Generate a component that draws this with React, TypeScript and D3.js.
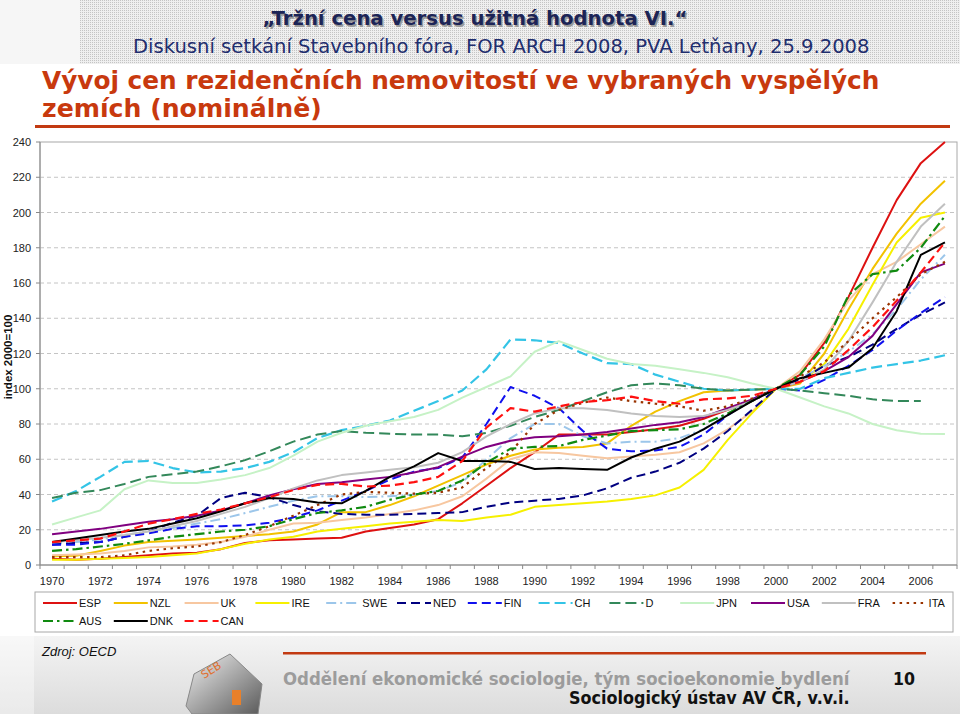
import React, { useLayoutEffect, useRef, useState } from 'react';
import * as d3 from 'd3';

const YEARS = [1970,1971,1972,1973,1974,1975,1976,1977,1978,1979,1980,1981,1982,1983,1984,1985,1986,1987,1988,1989,1990,1991,1992,1993,1994,1995,1996,1997,1998,1999,2000,2001,2002,2003,2004,2005,2006,2007];
const X_TICK_LABELS = ['1970','1972','1974','1976','1978','1980','1982','1984','1986','1988','1990','1992','1994','1996','1998','2000','2002','2004','2006'];
const Y_TICKS = [0,20,40,60,80,100,120,140,160,180,200,220,240];

const ESP = [3.5,3,3.5,4.5,5.5,6.5,7,9,12.5,14, 14.5,15,15.5,19,21,23,26,35,45,55, 64,74,74,74,75.5,77,79,83,88,93, 100,108,126,152,180,207,228,240];
const NZL = [5,5.3,8,11,13,13.8,14.5,15.5,16.5,17.5, 19,23,30,30,34,39,45,51,57,62, 65.5,66.5,67,69,79,87,93,98,99,99.5, 100,103,120,145,168,188,205,218];
const UK = [5.5,6,6.5,8,10,10.5,11.5,13,16,20, 23.5,24,25.5,27,29,31,34,39,49,60, 64,63.5,62,60.5,61.5,62.5,64,69,77,87, 100,110,128,150,165,172,182,192];
const IRE = [3,3,3.5,4,4.5,5.5,6.5,9,12,14.5, 16,19,20.5,22,23.5,24.5,25.5,25,27,28.5, 33,34,35,36,37.5,39.5,44,54,71,86, 100,104,114,134,159,183,197,200];
const SWE = [12,13,14.5,17,19,21,23.5,26,29.5,33, 36.5,39,39,38.5,39,40,42,47,60,72, 80,80,73,69,70,70,72,77,86,93, 100,106,113,121,131,145,162,176];
const NED = [11.5,12.5,13,16,19,24,28,38,41,38.5, 34,30.5,29,28.5,28.5,29,29.5,30,33,35.5, 36.5,37.5,39.5,43.5,49.5,53,58,66,76,88, 100,105,113,118,125,134,142,149];
const FIN = [11.5,11.5,13,16,18,20.5,22,22,22.5,24, 27,31,36.5,42,48.5,53,55,61,80,101, 96,89,76,66,64.5,65,67,74,85,94, 100,99,105,113,122,133,143,152];
const CH = [36,42,50,58.5,59,55,52.5,53,55,58.5, 64,72,76.5,79,82,87.5,93,99,111,128, 127.5,126,120,114.5,114,108,104,100,99,99.5, 100,100,106,109,112,114,116,119];
const D = [38,41,42.5,46,50,51.5,53,56,59.5,64.5, 70,74,76,75,74.5,74,74,73,75,79, 84,88,93,98,102,103,102,100,99,99.5, 100,99,97.5,96,94,93,93,null];
const JPN = [23,27,31,43,48,46.5,46.5,48.5,51,55, 62,70,75,79,81.5,84,88,95,101,107, 121,127,122,117,114,113,111,109,106.5,103, 100,95,90,86,80,76.5,74.5,74.3];
const USA = [17.5,19,20.5,22.5,24.5,26,28,31,35,39.5, 43,46,47,48.5,50,52.5,55.5,61.5,67,70.5, 72.5,73,74,75.5,77.5,79.5,81,84,89,94, 100,104,110,118,130,148,166,171];
const FRA = [13,14,15.5,17,19,22,25,29,33,38, 43.5,48,51,52.5,54,55.5,58,64,73,80, 86,89,89,88,86,84.5,84,84.5,88,93, 100,104,111,127,149,172,192,205];
const ITA = [4.5,4.5,4.5,5.5,8,9.5,10.5,13,17,22, 28,34,40,41.5,41,40.5,41,44,55,64, 80,88,92,95,93,91.5,90,87.5,90,94.5, 100,107,115,127,140,152,165,172];
const AUS = [8,9,10.5,12,14,16,17.5,19,20,22, 26,29.5,31,33,37,40,42,48,58,66, 67,67.5,71,73.5,76,76.5,77,80,86,93, 100,108,124,153,165,167,180,198];
const DNK = [13,15,17,19,20.5,23.5,26.5,30.5,35,38, 37.5,35.5,35,42,50,56,63.5,59,59,58.5, 54.5,55,54.5,54,61,66,70,77,85,93, 100,106,109,112,123,144,176,183];
const CAN = [13,14,15,19,23.5,26,29,31.5,35,38.5, 42.5,45.5,46,44.5,45,47,50,59,78,89, 87,90,92.5,93.5,95.5,93,91.5,94,94.5,96, 100,104,110,122,135,150,166,183];

const SERIES_NAMES = ['ESP','NZL','UK','IRE','SWE','NED','FIN','CH','D','JPN','USA','FRA','ITA','AUS','DNK','CAN'];
const SERIES_VALUES = [ESP,NZL,UK,IRE,SWE,NED,FIN,CH,D,JPN,USA,FRA,ITA,AUS,DNK,CAN];

const STYLES: Record<string, { color: string; dash: string; width: number }> = {
  ESP: { color: '#dd1111', dash: '', width: 2 },
  NZL: { color: '#f2c200', dash: '', width: 2 },
  UK: { color: '#f7c7a0', dash: '', width: 2 },
  IRE: { color: '#f6f000', dash: '', width: 2 },
  SWE: { color: '#9cc6ea', dash: '10,4,2,4', width: 2 },
  NED: { color: '#000080', dash: '9,5', width: 2 },
  FIN: { color: '#1010ee', dash: '9,5', width: 2 },
  CH: { color: '#33c4e6', dash: '11,5', width: 2.2 },
  D: { color: '#33885a', dash: '11,5', width: 2 },
  JPN: { color: '#c6f2c6', dash: '', width: 2 },
  USA: { color: '#800080', dash: '', width: 2 },
  FRA: { color: '#c0c0c0', dash: '', width: 2 },
  ITA: { color: '#993300', dash: '2.5,4.5', width: 2.2 },
  AUS: { color: '#108a10', dash: '10,4,2.5,4', width: 2.2 },
  DNK: { color: '#000000', dash: '', width: 2 },
  CAN: { color: '#ff1010', dash: '9,5', width: 2.2 },
};

type FitProps = {
  x: number; y: number; width: number; anchor?: 'start' | 'middle' | 'end';
  children: string; [k: string]: any;
};

function FitText({ x, y, width, anchor = 'start', children, ...rest }: FitProps) {
  const ref = useRef<SVGTextElement>(null);
  const [s, setS] = useState(1);
  useLayoutEffect(() => {
    if (ref.current) {
      const w = ref.current.getComputedTextLength();
      if (w > 0) setS(width / w);
    }
  }, [width, children]);
  return (
    <text ref={ref} transform={`translate(${x},${y}) scale(${s},1)`} textAnchor={anchor} {...rest}>{children}</text>
  );
}

export default function App() {
  const W = 960, H = 714;
  const x = d3.scaleBand<number>().domain(YEARS).range([40, 957]).padding(0);
  const y = d3.scaleLinear().domain([0, 240]).range([565, 142]);
  const cx = (yr: number) => (x(yr) as number) + x.bandwidth() / 2;
  const lineGen = d3.line<[number, number | null]>()
    .defined(d => d[1] != null)
    .x(d => cx(d[0]))
    .y(d => y(d[1] as number));

  const legendRow1 = SERIES_NAMES.filter(n => !['AUS','DNK','CAN'].includes(n));
  const legendRow2 = ['AUS','DNK','CAN'];
  const legendItems = [
    ...legendRow1.map((n, i) => ({ n, lx: 79 + i * 70.8, ly: 603 })),
    ...legendRow2.map((n, i) => ({ n, lx: 79 + i * 70.8, ly: 621 })),
  ];

  const font = "'Liberation Sans', Arial, sans-serif";
  const titleFont = "'DejaVu Sans', Verdana, sans-serif";

  return (
    <svg width={W} height={H} viewBox={`0 0 ${W} ${H}`} style={{ position: 'absolute', left: 0, top: 0, background: '#fff' }}>
      <defs>
        <pattern id="dots" width="2" height="2" patternUnits="userSpaceOnUse">
          <rect width="2" height="2" fill="#efefef" />
          <rect width="1" height="1" fill="#c4c4c4" />
        </pattern>
        <linearGradient id="foot" x1="0" y1="0" x2="0" y2="1">
          <stop offset="0" stopColor="#f4f4f4" />
          <stop offset="1" stopColor="#dcdcdc" />
        </linearGradient>
        <linearGradient id="roof" x1="0" y1="0" x2="1" y2="1">
          <stop offset="0" stopColor="#f2f2f2" />
          <stop offset="1" stopColor="#5a5a5a" />
        </linearGradient>
      </defs>

      {/* header banner */}
      <rect x={0} y={0} width={80} height={64} fill="#f6f6f6" />
      <rect x={80} y={0} width={880} height={64} fill="url(#dots)" />
      <FitText x={476.5} y={26.5} width={425} anchor="middle" fontFamily={titleFont} fontWeight="bold" fontSize={20} fill="#9a9a9a">„Tržní cena versus užitná hodnota VI.“</FitText>
      <FitText x={475} y={25} width={425} anchor="middle" fontFamily={titleFont} fontWeight="bold" fontSize={20} fill="#1c2456">„Tržní cena versus užitná hodnota VI.“</FitText>
      <FitText x={133} y={53} width={737} fontFamily={titleFont} fontSize={19} fill="#1f2e6e">Diskusní setkání Stavebního fóra, FOR ARCH 2008, PVA Letňany, 25.9.2008</FitText>

      {/* main title */}
      <FitText x={42} y={89} width={838} fontFamily={titleFont} fontWeight="bold" fontSize={25} fill="#c8390e">Vývoj cen rezidenčních nemovitostí ve vybraných vyspělých</FitText>
      <FitText x={42} y={117} width={280} fontFamily={titleFont} fontWeight="bold" fontSize={25} fill="#c8390e">zemích (nominálně)</FitText>
      <rect x={35} y={125} width={915} height={3} fill="#c23a12" />

      {/* plot area */}
      <rect x={40} y={142} width={917} height={423} fill="#fff" stroke="#a8a8a8" strokeWidth={1} />
      {Y_TICKS.filter(t => t > 0 && t < 240).map(t => (
        <line key={'g' + t} x1={40} x2={957} y1={y(t)} y2={y(t)} stroke="#c4c4c4" strokeDasharray="4,3" strokeWidth={1} />
      ))}
      <line x1={40} x2={40} y1={142} y2={565} stroke="#888" />
      <line x1={40} x2={957} y1={565} y2={565} stroke="#888" />
      {Y_TICKS.map(t => (
        <g key={'yt' + t}>
          <line x1={36} x2={40} y1={y(t)} y2={y(t)} stroke="#888" />
          <text x={31} y={y(t) + 4} textAnchor="end" fontFamily={font} fontSize={11} fill="#222">{t}</text>
        </g>
      ))}
      {YEARS.map(yr => (
        <line key={'xt' + yr} x1={x(yr) as number} x2={x(yr) as number} y1={565} y2={569} stroke="#888" />
      ))}
      <line x1={957} x2={957} y1={565} y2={569} stroke="#888" />
      {X_TICK_LABELS.map(l => (
        <text key={'xl' + l} x={cx(+l)} y={585} textAnchor="middle" fontFamily={font} fontSize={11} fill="#222">{l}</text>
      ))}
      <text transform="translate(12,357) rotate(-90)" textAnchor="middle" fontFamily={font} fontWeight="bold" fontSize={11.5} fill="#111">index 2000=100</text>

      {/* series */}
      {SERIES_NAMES.map((n, si) => {
        const pts = YEARS.map((yr, i) => [yr, SERIES_VALUES[si][i]] as [number, number | null]);
        const s = STYLES[n];
        return (
          <path key={n} d={lineGen(pts) || ''} fill="none" stroke={s.color} strokeWidth={s.width}
            strokeDasharray={s.dash || undefined} strokeLinejoin="round" />
        );
      })}

      {/* legend */}
      <rect x={35} y={592} width={918} height={40} fill="#fff" stroke="#a8a8a8" />
      {legendItems.map(({ n, lx, ly }) => {
        const s = STYLES[n];
        return (
          <g key={'lg' + n}>
            <line x1={lx - 36} x2={lx - 2} y1={ly} y2={ly} stroke={s.color} strokeWidth={s.width}
              strokeDasharray={s.dash || undefined} />
            <text x={lx} y={ly + 4} fontFamily={font} fontSize={11} fill="#111">{n}</text>
          </g>
        );
      })}

      {/* footer */}
      <rect x={0} y={636} width={960} height={78} fill="url(#foot)" />
      <rect x={0} y={632} width={34} height={82} fill="#fff" opacity={0.4} />
      <text x={42} y={656} fontFamily={font} fontStyle="italic" fontSize={13} fill="#111">Zdroj: OECD</text>
      <rect x={283} y={652} width={643} height={2.5} fill="#c23a12" />
      <polygon points="186,706 194,674 230,654 262,684 258,714 192,714" fill="url(#roof)" stroke="#888" strokeWidth={1} />
      <text x={204} y={679} fontFamily={titleFont} fontSize={11} fill="#e07030" transform="rotate(-32 204 679)">SEB</text>
      <rect x={232} y={690} width={9} height={15} fill="#e8802a" />
      <FitText x={283} y={685} width={567} fontFamily={titleFont} fontWeight="bold" fontSize={18} fill="#9c9c9c">Oddělení ekonomické sociologie, tým socioekonomie bydlení</FitText>
      <FitText x={893} y={685} width={22} fontFamily={titleFont} fontWeight="bold" fontSize={17} fill="#111">10</FitText>
      <FitText x={569} y={704} width={281} fontFamily={titleFont} fontWeight="bold" fontSize={18} fill="#111">Sociologický ústav AV ČR, v.v.i.</FitText>
    </svg>
  );
}
